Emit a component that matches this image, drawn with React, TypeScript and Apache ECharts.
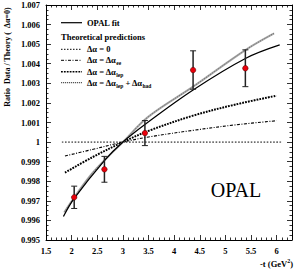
import React, { useEffect, useRef } from "react";
import * as echarts from "echarts";

// Measured ratios (Data / Theory) vs -t
const tValues = [2.05, 2.64, 3.43, 4.37, 5.39];
const ratioValues = [0.99718, 0.99861, 1.00046, 1.00368, 1.00377];
const ratioErrors = [0.00057, 0.00066, 0.00064, 0.00098, 0.00094];

// Curves: [-t, ratio]
const opalFit = [
  [1.84, 0.9962], [2.05, 0.99712], [2.64, 0.99905], [3.0, 1.0], [3.43, 1.0009],
  [4.37, 1.00266], [5.4, 1.00428], [6.06, 1.00496],
];
const deltaZero = [[1.81, 1.0], [6.1, 1.0]];
const deltaEE = [
  [1.87, 0.99929], [2.4, 0.99962], [3.0, 1.0], [3.5, 1.00026], [4.37, 1.0006],
  [5.2, 1.00088], [6.0, 1.00109],
];
const deltaLep = [
  [1.87, 0.99844], [2.4, 0.99922], [3.0, 1.0], [3.5, 1.00057], [4.37, 1.00135],
  [5.2, 1.00192], [6.0, 1.00237],
];
const deltaLepHad = [
  [1.857, 0.99642], [2.4, 0.9984], [3.0, 1.0], [3.5, 1.0013], [4.37, 1.00283],
  [5.39, 1.0047], [5.95, 1.00555],
];

const xMin = 1.5;
const xMax = 6.3;
const xStep = 0.5;
const yMin = 0.995;
const yMax = 1.007;
const yStep = 0.001;

const SERIF = '"Liberation Serif", "Times New Roman", serif';

export default function App() {
  const ref = useRef<HTMLDivElement>(null);

  useEffect(() => {
    if (!ref.current) return;
    const chart = echarts.init(ref.current, null, { renderer: "svg" });

    const labelStyle = {
      fontFamily: SERIF,
      fontWeight: "bold" as const,
      fontSize: 8.5,
      color: "#000",
    };

    const axisCommon = {
      axisLine: { show: true, onZero: false, lineStyle: { color: "#000", width: 1 } },
      splitLine: { show: false },
      axisTick: { show: true, inside: true, length: 5, lineStyle: { color: "#000", width: 0.8 } },
      minorTick: { show: true, length: 2.5, lineStyle: { color: "#000", width: 0.8 } },
    };

    const legendY = [22.7, 49.3, 60.3, 71.7, 82.7];
    const sampleX1 = 61;
    const sampleX2 = 82;
    const textX = 87;
    const txt = { fontFamily: SERIF, fontWeight: "bold", fontSize: 8.5, fill: "#000" };
    const rich = {
      n: { fontFamily: SERIF, fontWeight: "bold", fontSize: 8.5 },
      s: { fontFamily: SERIF, fontWeight: "bold", fontSize: 5.5, padding: [6, 0, 0, 0] },
    };

    const legendLine = (y: number, lineDash: any, width: number, color = "#000") => ({
      type: "line",
      shape: { x1: sampleX1, y1: y, x2: sampleX2, y2: y },
      style: { stroke: color, lineWidth: width, lineDash },
    });
    const legendText = (y: number, text: string) => ({
      type: "text",
      x: textX,
      y,
      style: { ...txt, text, rich, verticalAlign: "middle", align: "left" },
    });

    const curve = (data: number[][], lineStyle: any, z = 3) => ({
      type: "line",
      data,
      showSymbol: false,
      symbol: "none",
      smooth: 0.35,
      lineStyle,
      z,
      silent: true,
    });

    chart.setOption({
      animation: false,
      backgroundColor: "#fff",
      grid: { left: 46, right: 2, top: 5, bottom: 33, containLabel: false },
      xAxis: [
        {
          type: "value",
          position: "bottom",
          min: xMin,
          max: xMax,
          interval: xStep,
          minorTick: { ...axisCommon.minorTick, splitNumber: 5 },
          axisLine: axisCommon.axisLine,
          splitLine: axisCommon.splitLine,
          axisTick: axisCommon.axisTick,
          axisLabel: {
            ...labelStyle,
            margin: 6,
            showMaxLabel: false,
            formatter: (v: number) => {
              const k = Math.round(v / xStep);
              if (Math.abs(k * xStep - v) > 1e-6 || v > 6.01) return "";
              return String(Math.round(v * 10) / 10);
            },
          },
        },
        {
          type: "value",
          position: "top",
          min: xMin,
          max: xMax,
          interval: xStep,
          minorTick: { ...axisCommon.minorTick, splitNumber: 5 },
          axisLine: axisCommon.axisLine,
          splitLine: axisCommon.splitLine,
          axisTick: axisCommon.axisTick,
          axisLabel: { show: false },
        },
      ],
      yAxis: [
        {
          type: "value",
          position: "left",
          min: yMin,
          max: yMax,
          interval: yStep,
          minorTick: { ...axisCommon.minorTick, splitNumber: 4 },
          axisLine: axisCommon.axisLine,
          splitLine: axisCommon.splitLine,
          axisTick: axisCommon.axisTick,
          axisLabel: {
            ...labelStyle,
            margin: 6,
            formatter: (v: number) => (Math.abs(v - 1) < 1e-7 ? "1" : v.toFixed(3)),
          },
        },
        {
          type: "value",
          position: "right",
          min: yMin,
          max: yMax,
          interval: yStep,
          minorTick: { ...axisCommon.minorTick, splitNumber: 4 },
          axisLine: axisCommon.axisLine,
          splitLine: axisCommon.splitLine,
          axisTick: axisCommon.axisTick,
          axisLabel: { show: false },
        },
      ],
      series: [
        curve(deltaZero, { color: "#000", width: 1, type: [1.6, 1.6] }),
        curve(deltaEE, { color: "#000", width: 1.1, type: [3, 1.5, 1, 1.5] }),
        curve(deltaLep, { color: "#000", width: 2, type: [1.8, 1.1] }),
        curve(deltaLepHad, { color: "#a8a8a8", width: 2, type: "solid" }),
        curve(deltaLepHad, { color: "#555", width: 0.8, type: [1, 1.5] }, 4),
        curve(opalFit, { color: "#000", width: 1.3, type: "solid" }, 5),
        {
          type: "custom",
          data: tValues.map((t, i) => [t, ratioValues[i], ratioValues[i] - ratioErrors[i], ratioValues[i] + ratioErrors[i]]),
          encode: { x: 0, y: [1, 2, 3] },
          z: 6,
          silent: true,
          renderItem: (params: any, api: any) => {
            const x = api.value(0);
            const lo = api.coord([x, api.value(2)]);
            const hi = api.coord([x, api.value(3)]);
            const cap = 3;
            const st = { stroke: "#222", lineWidth: 1.5 };
            return {
              type: "group",
              children: [
                { type: "line", shape: { x1: lo[0], y1: lo[1], x2: hi[0], y2: hi[1] }, style: st },
                { type: "line", shape: { x1: lo[0] - cap, y1: lo[1], x2: lo[0] + cap, y2: lo[1] }, style: { stroke: "#222", lineWidth: 1 } },
                { type: "line", shape: { x1: hi[0] - cap, y1: hi[1], x2: hi[0] + cap, y2: hi[1] }, style: { stroke: "#222", lineWidth: 1 } },
              ],
            };
          },
        },
        {
          type: "scatter",
          data: tValues.map((t, i) => [t, ratioValues[i]]),
          symbol: "circle",
          symbolSize: 5.5,
          itemStyle: { color: "#e8000b", borderColor: "#400", borderWidth: 0.5, opacity: 1 },
          z: 7,
          silent: true,
        },
      ],
      graphic: [
        legendLine(legendY[0], null, 1.2),
        legendText(legendY[0], "{n|OPAL fit}"),
        {
          type: "text",
          x: sampleX1,
          y: 36.7,
          style: { ...txt, text: "Theoretical predictions", verticalAlign: "middle", align: "left" },
        },
        legendLine(legendY[1], [1.5, 1.5], 1),
        legendText(legendY[1], "{n|Δα = 0}"),
        legendLine(legendY[2], [3, 1.5, 1, 1.5], 1),
        legendText(legendY[2], "{n|Δα = Δα}{s|ee}"),
        legendLine(legendY[3], [1.8, 1.1], 1.6),
        legendText(legendY[3], "{n|Δα = Δα}{s|lep}"),
        legendLine(legendY[4], [1.2, 0.8], 1.2, "#555"),
        legendText(legendY[4], "{n|Δα = Δα}{s|lep}{n| + Δα}{s|had}"),
        {
          type: "text",
          x: 236,
          y: 190,
          style: {
            text: "OPAL",
            fontFamily: SERIF,
            fontSize: 20,
            fill: "#000",
            align: "center",
            verticalAlign: "middle",
          },
        },
        {
          type: "text",
          x: 7,
          y: 57,
          rotation: Math.PI / 2,
          style: {
            text: "Ratio  Data / Theory (  Δα=0)",
            fontFamily: SERIF,
            fontWeight: "bold",
            fontSize: 8,
            fill: "#000",
            align: "center",
            verticalAlign: "middle",
          },
        },
        {
          type: "text",
          x: 293,
          y: 264,
          style: {
            text: "{n|-t (GeV}{p|2}{n|)}",
            rich: {
              n: { fontFamily: SERIF, fontWeight: "bold", fontSize: 8.5 },
              p: { fontFamily: SERIF, fontWeight: "bold", fontSize: 6, padding: [0, 0, 6, 0] },
            },
            fill: "#000",
            align: "right",
            verticalAlign: "middle",
          },
        },
      ],
    });

    return () => chart.dispose();
  }, []);

  return (
    <div
      ref={ref}
      style={{ position: "fixed", left: 0, top: 0, width: 294, height: 273, background: "#fff" }}
    />
  );
}
